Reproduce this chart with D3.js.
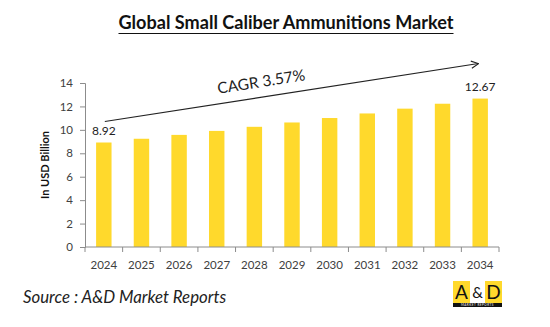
<!DOCTYPE html>
<html>
<head>
<meta charset="utf-8">
<script src="https://cdn.jsdelivr.net/npm/d3@7"></script>
<style>
  html, body { margin: 0; padding: 0; background: #fff; }
  svg { display: block; }
  text { font-family: Lato, "Open Sans", sans-serif; }
</style>
</head>
<body>
<svg id="chart" width="550" height="327"></svg>
<script>
// Market size by year (USD billion)
const years = ["2024","2025","2026","2027","2028","2029","2030","2031","2032","2033","2034"];
const values = [8.92, 9.24, 9.57, 9.91, 10.26, 10.63, 11.01, 11.40, 11.81, 12.23, 12.67];
const yTicks = [0, 2, 4, 6, 8, 10, 12, 14];
const labelled = ["2024", "2034"];
const titleText = "Global Small Caliber Ammunitions Market";
const cagrText = "CAGR 3.57%";
const axisTitle = "In USD Billion";
const sourceText = "Source : A&D Market Reports";

const svg = d3.select("#chart");
const margin = { left: 85, right: 51, top: 83, bottom: 80 };
const W = 550, H = 327;

const x = d3.scaleBand().domain(years).range([margin.left, W - margin.right]).paddingInner(0.59).paddingOuter(0.295);
const y = d3.scaleLinear().domain([0, 14]).range([H - margin.bottom, margin.top]);

const textCol = "#404040";
const axisCol = "#8c8c8c";

// Title (underlined)
svg.append("text")
  .attr("x", 286).attr("y", 29)
  .attr("text-anchor", "middle")
  .attr("font-weight", "bold").attr("font-size", 18)
  .attr("fill", "#111")
  .attr("textLength", 335).attr("lengthAdjust", "spacingAndGlyphs")
  .text(titleText);
svg.append("line")
  .attr("x1", 286 - 167.5).attr("x2", 286 + 167.5)
  .attr("y1", 33.5).attr("y2", 33.5)
  .attr("stroke", "#111").attr("stroke-width", 1.2);

// Bars
svg.append("g").selectAll("rect").data(years).join("rect")
  .attr("x", d => x(d))
  .attr("width", x.bandwidth())
  .attr("y", (d, i) => y(values[i]))
  .attr("height", (d, i) => y(0) - y(values[i]))
  .attr("fill", "#FFD92C");

// Y axis
const yAxis = svg.append("g")
  .attr("transform", `translate(${margin.left},0)`)
  .call(d3.axisLeft(y).tickValues(yTicks).tickSize(5).tickPadding(7).tickFormat(d3.format("d")));
yAxis.select(".domain").attr("stroke", axisCol);
yAxis.selectAll(".tick line").attr("stroke", axisCol);
yAxis.selectAll(".tick text").attr("fill", textCol).attr("font-size", 11.5).attr("font-family", "Lato, sans-serif");

// X axis with ticks at band boundaries
const xAxisG = svg.append("g").attr("transform", `translate(0,${y(0)})`);
xAxisG.append("line")
  .attr("x1", margin.left).attr("x2", W - margin.right)
  .attr("stroke", axisCol);
const step = x.step();
const bounds = years.map((d, i) => x(d) - x.paddingInner() * step / 2).concat([W - margin.right]);
xAxisG.selectAll(".bt").data(bounds).join("line")
  .attr("class", "bt")
  .attr("x1", d => d).attr("x2", d => d)
  .attr("y1", 0).attr("y2", 5)
  .attr("stroke", axisCol);
xAxisG.selectAll(".xl").data(years).join("text")
  .attr("class", "xl")
  .attr("x", d => x(d) + x.bandwidth() / 2)
  .attr("y", 22)
  .attr("text-anchor", "middle")
  .attr("font-size", 11.5).attr("fill", textCol)
  .text(d => d);

// Axis title
svg.append("text")
  .attr("transform", `translate(49,${(y(0) + y(14)) / 2}) rotate(-90)`)
  .attr("text-anchor", "middle")
  .attr("font-weight", "bold").attr("font-size", 11)
  .attr("fill", "#111")
  .text(axisTitle);

// Value labels on first and last bars
svg.append("g").selectAll("text").data(labelled).join("text")
  .attr("x", d => x(d) + x.bandwidth() / 2)
  .attr("y", d => y(values[years.indexOf(d)]) - 8)
  .attr("text-anchor", "middle")
  .attr("font-size", 12).attr("fill", "#222")
  .text(d => values[years.indexOf(d)].toFixed(2));

// Growth arrow
const defs = svg.append("defs");
defs.append("marker")
  .attr("id", "head").attr("viewBox", "0 0 10 10")
  .attr("refX", 9).attr("refY", 5)
  .attr("markerWidth", 9).attr("markerHeight", 9)
  .attr("markerUnits", "userSpaceOnUse")
  .attr("orient", "auto")
  .append("path").attr("d", "M1,1 L9,5 L1,9")
  .attr("fill", "none").attr("stroke", "#222").attr("stroke-width", 1.2);

const x0 = x("2024") + x.bandwidth() / 2 + 1;
const y0 = y(values[0]) - 21;
const x1 = x("2034") + 6;
const y1 = y(values[values.length - 1]) - 35;
svg.append("line")
  .attr("x1", x0).attr("y1", y0).attr("x2", x1).attr("y2", y1)
  .attr("stroke", "#222").attr("stroke-width", 1.1)
  .attr("marker-end", "url(#head)");

const ang = Math.atan2(y1 - y0, x1 - x0) * 180 / Math.PI;
svg.append("text")
  .attr("transform", `translate(262,87) rotate(${ang})`)
  .attr("text-anchor", "middle")
  .attr("font-size", 15.5).attr("fill", "#222")
  .text(cagrText);

// Source note
svg.append("text")
  .attr("x", 23).attr("y", 303)
  .attr("font-style", "italic").attr("font-size", 16.8)
  .attr("fill", "#222")
  .text(sourceText);

// Publisher badge
const logo = svg.append("g").attr("transform", "translate(453,281)");
logo.append("rect").attr("width", 49).attr("height", 22).attr("fill", "#FFD92C");
logo.append("rect").attr("x", 17).attr("width", 15).attr("height", 22).attr("fill", "#fff");
logo.append("rect").attr("y", 22).attr("width", 49).attr("height", 4).attr("fill", "#111");
logo.append("text").attr("x", 8.5).attr("y", 18).attr("text-anchor", "middle")
  .attr("font-size", 19).attr("font-family", "Arial, Liberation Sans, sans-serif").attr("fill", "#111").text("A");
logo.append("text").attr("x", 24.5).attr("y", 17).attr("text-anchor", "middle")
  .attr("font-size", 15).attr("font-family", "Arial, Liberation Sans, sans-serif").attr("fill", "#111").text("&");
logo.append("text").attr("x", 40.5).attr("y", 18).attr("text-anchor", "middle")
  .attr("font-size", 19).attr("font-family", "Arial, Liberation Sans, sans-serif").attr("fill", "#111").text("D");
logo.append("text").attr("x", 24.5).attr("y", 25.3).attr("text-anchor", "middle")
  .attr("font-size", 3).attr("fill", "#fff").attr("letter-spacing", 0.5).text("MARKET REPORTS");
</script>
</body>
</html>
